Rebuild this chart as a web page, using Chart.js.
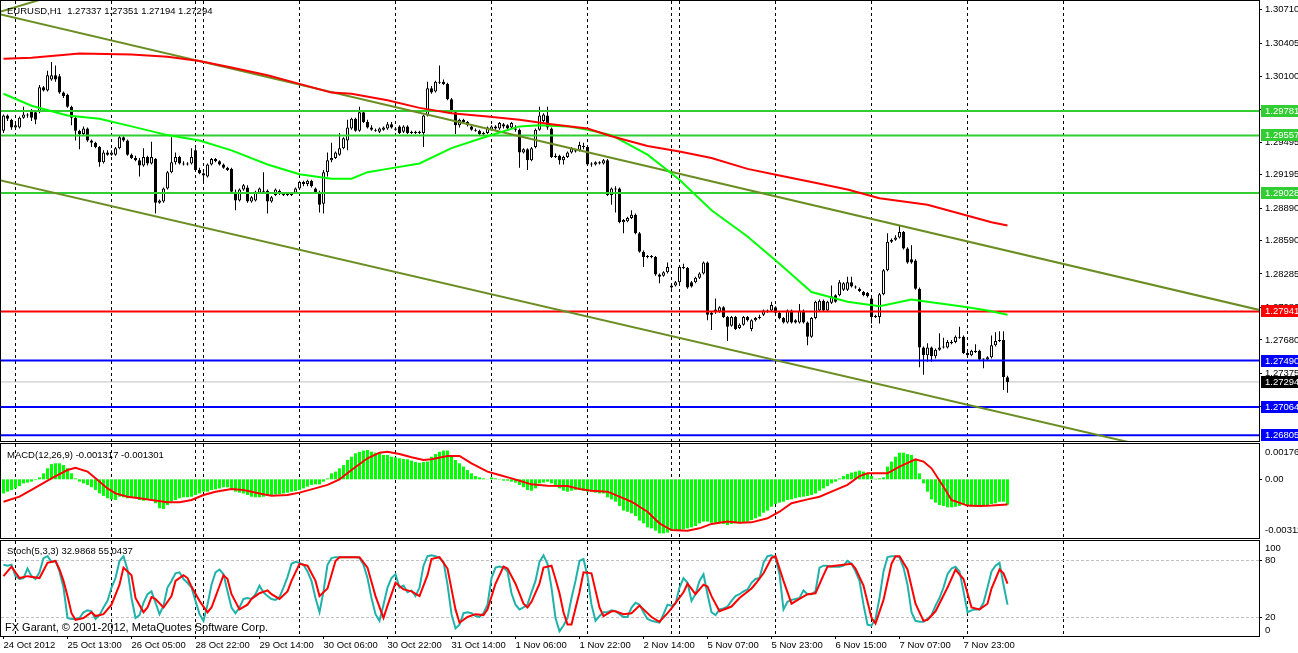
<!DOCTYPE html>
<html>
<head>
<meta charset="utf-8">
<title>EURUSD,H1</title>
<script src="https://cdn.jsdelivr.net/npm/chart.js@4.4.1/dist/chart.umd.min.js"></script>
<style>
  html, body { margin: 0; padding: 0; background: #fff; }
  #wrap { position: relative; width: 1298px; height: 653px; overflow: hidden; background: #fff; }
  #wrap canvas { position: absolute; left: 0; top: 0; }
</style>
</head>
<body>
<div id="wrap">
  <canvas id="mainChart"></canvas>
  <canvas id="macdChart"></canvas>
  <canvas id="stochChart"></canvas>
</div>
<script>
/* global Chart */

// texts
const symbolTitle = "EURUSD,H1  1.27337 1.27351 1.27194 1.27294";
const macdTitle = "MACD(12,26,9) -0.001317 -0.001301";
const stochTitle = "Stoch(5,3,3) 32.9868 55.0437";
const copyright = "FX Garant, \u00a9 2001-2012, MetaQuotes Software Corp.";

// time axis (bar index, H1)
const xLabelIdx = [0, 16, 32, 48, 64, 80, 96, 112, 128, 144, 160, 176, 192, 208, 224, 240];
const xLabels = ["24 Oct 2012", "25 Oct 13:00", "26 Oct 05:00", "28 Oct 22:00", "29 Oct 14:00", "30 Oct 06:00",
  "30 Oct 22:00", "31 Oct 14:00", "1 Nov 06:00", "1 Nov 22:00", "2 Nov 14:00", "5 Nov 07:00",
  "5 Nov 23:00", "6 Nov 15:00", "7 Nov 07:00", "7 Nov 23:00"];
const dayStarts = [3, 27, 48, 50, 74, 98, 122, 146, 167, 169, 193, 217, 241, 265];

// price axis
const priceTicks = [1.30710, 1.30405, 1.30100, 1.29795, 1.29495, 1.29195, 1.28890, 1.28590, 1.28285, 1.27980, 1.27680, 1.27375, 1.27070];
const greenLevels = [1.29781, 1.29557, 1.29028];
const redLevels = [1.27941];
const blueLevels = [1.27490, 1.27064, 1.26805];
const lastPrice = 1.27294;

// trend lines [barIndex, price]
const upperChannel = [[-2, 1.30679], [320, 1.27903]];
const lowerChannel = [[-2, 1.29155], [320, 1.26412]];
const fanLine = [[-2, 1.30680], [10, 1.30812]];

// candles
const opens = [
  1.2960,1.2974,1.2970,1.2963,1.2963,1.2972,1.2975,1.2979,1.2977,1.2977,
  1.3000,1.2997,1.3007,1.3011,1.3010,1.2995,1.2993,1.2982,1.2972,1.2960,
  1.2957,1.2962,1.2951,1.2949,1.2945,1.2931,1.2940,1.2938,1.2938,1.2944,
  1.2954,1.2951,1.2938,1.2935,1.2933,1.2928,1.2936,1.2930,1.2934,1.2894,
  1.2895,1.2907,1.2922,1.2931,1.2936,1.2930,1.2929,1.2930,1.2942,1.2924,
  1.2921,1.2918,1.2929,1.2934,1.2932,1.2929,1.2926,1.2925,1.2904,1.2896,
  1.2906,1.2908,1.2895,1.2896,1.2903,1.2904,1.2905,1.2895,1.2901,1.2905,
  1.2902,1.2901,1.2902,1.2903,1.2907,1.2913,1.2911,1.2914,1.2907,1.2904,
  1.2893,1.2922,1.2933,1.2935,1.2938,1.2944,1.2951,1.2962,1.2971,1.2960,
  1.2977,1.2968,1.2963,1.2961,1.2959,1.2961,1.2962,1.2966,1.2962,1.2964,
  1.2959,1.2964,1.2958,1.2959,1.2958,1.2958,1.2974,1.2999,1.2996,1.3005,
  1.3005,1.3003,1.2989,1.2977,1.2965,1.2970,1.2968,1.2964,1.2961,1.2960,
  1.2957,1.2958,1.2961,1.2964,1.2962,1.2966,1.2965,1.2963,1.2962,1.2961,
  1.2940,1.2943,1.2933,1.2945,1.2961,1.2969,1.2974,1.2962,1.2936,1.2937,
  1.2933,1.2936,1.2940,1.2942,1.2942,1.2946,1.2945,1.2929,1.2929,1.2931,
  1.2930,1.2933,1.2901,1.2907,1.2907,1.2876,1.2877,1.2880,1.2883,1.2866,
  1.2849,1.2844,1.2845,1.2844,1.2828,1.2827,1.2830,1.2816,1.2818,1.2821,
  1.2835,1.2834,1.2821,1.2821,1.2825,1.2829,1.2839,1.2791,1.2794,1.2794,
  1.2798,1.2789,1.2781,1.2789,1.2779,1.2782,1.2789,1.2778,1.2786,1.2788,
  1.2791,1.2795,1.2795,1.2798,1.2793,1.2788,1.2784,1.2795,1.2786,1.2784,
  1.2795,1.2784,1.2771,1.2788,1.2795,1.2804,1.2795,1.2802,1.2809,1.2809,
  1.2814,1.2814,1.2821,1.2817,1.2815,1.2812,1.2811,1.2806,1.2789,1.2789,
  1.2810,1.2832,1.2858,1.2860,1.2862,1.2867,1.2852,1.2842,1.2841,1.2815,
  1.2761,1.2754,1.2761,1.2753,1.2759,1.2761,1.2761,1.2766,1.2766,1.2771,
  1.2771,1.2756,1.2754,1.2758,1.2758,1.2750,1.2750,1.2752,1.2763,1.2767,1.2768,1.27337
];
const highs = [
  1.2975,1.2975,1.2971,1.2967,1.2973,1.2982,1.2976,1.2980,1.2979,1.3002,
  1.3001,1.3015,1.3023,1.3020,1.3012,1.2996,1.2994,1.2983,1.2973,1.2961,
  1.2964,1.2963,1.2952,1.2950,1.2946,1.2942,1.2942,1.2942,1.2945,1.2956,
  1.2955,1.2952,1.2939,1.2937,1.2935,1.2944,1.2937,1.2950,1.2935,1.2897,
  1.2908,1.2923,1.2954,1.2940,1.2937,1.2932,1.2931,1.2944,1.2944,1.2926,
  1.2922,1.2930,1.2935,1.2935,1.2933,1.2930,1.2927,1.2926,1.2906,1.2907,
  1.2911,1.2910,1.2900,1.2905,1.2908,1.2922,1.2906,1.2900,1.2907,1.2906,
  1.2903,1.2903,1.2903,1.2908,1.2914,1.2914,1.2915,1.2915,1.2908,1.2905,
  1.2924,1.2940,1.2949,1.2941,1.2958,1.2954,1.2970,1.2972,1.2972,1.2982,
  1.2978,1.2970,1.2965,1.2962,1.2963,1.2964,1.2968,1.2968,1.2963,1.2965,
  1.2965,1.2965,1.2960,1.2960,1.2960,1.2975,1.3005,1.3001,1.3006,1.3020,
  1.3007,1.3004,1.2990,1.2978,1.2971,1.2971,1.2969,1.2965,1.2962,1.2961,
  1.2959,1.2964,1.2965,1.2965,1.2968,1.2967,1.2966,1.2968,1.2965,1.2962,
  1.2944,1.2944,1.2945,1.2962,1.2982,1.2976,1.2982,1.2963,1.2939,1.2938,
  1.2937,1.2941,1.2945,1.2943,1.2950,1.2949,1.2946,1.2931,1.2932,1.2932,
  1.2934,1.2934,1.2908,1.2909,1.2908,1.2879,1.2881,1.2887,1.2884,1.2867,
  1.2850,1.2846,1.2846,1.2845,1.2829,1.2831,1.2839,1.2819,1.2822,1.2836,
  1.2838,1.2835,1.2822,1.2826,1.2830,1.2840,1.2840,1.2794,1.2806,1.2799,
  1.2799,1.2790,1.2790,1.2790,1.2783,1.2790,1.2790,1.2787,1.2789,1.2791,
  1.2796,1.2796,1.2803,1.2799,1.2794,1.2789,1.2796,1.2796,1.2787,1.2801,
  1.2796,1.2785,1.2789,1.2804,1.2805,1.2805,1.2804,1.2818,1.2810,1.2823,
  1.2821,1.2826,1.2826,1.2818,1.2816,1.2813,1.2812,1.2807,1.2791,1.2811,
  1.2833,1.2866,1.2861,1.2864,1.2873,1.2868,1.2853,1.2855,1.2842,1.2816,
  1.2762,1.2765,1.2762,1.2760,1.2774,1.2770,1.2768,1.2768,1.2772,1.2780,
  1.2772,1.2757,1.2759,1.2764,1.2759,1.2751,1.2753,1.2772,1.2775,1.2776,1.2776,1.27351
];
const lows = [
  1.2958,1.2969,1.2961,1.2962,1.2962,1.2971,1.2972,1.2969,1.2966,1.2976,
  1.2996,1.2996,1.3006,1.3005,1.2994,1.2990,1.2981,1.2965,1.2951,1.2943,
  1.2956,1.2950,1.2945,1.2944,1.2927,1.2930,1.2937,1.2937,1.2937,1.2943,
  1.2950,1.2937,1.2934,1.2932,1.2918,1.2927,1.2928,1.2929,1.2884,1.2893,
  1.2894,1.2906,1.2921,1.2929,1.2929,1.2928,1.2928,1.2929,1.2923,1.2920,
  1.2912,1.2917,1.2928,1.2931,1.2928,1.2925,1.2923,1.2903,1.2887,1.2895,
  1.2905,1.2894,1.2894,1.2895,1.2902,1.2903,1.2884,1.2894,1.2900,1.2901,
  1.2900,1.2900,1.2900,1.2902,1.2906,1.2909,1.2909,1.2908,1.2902,1.2885,
  1.2884,1.2918,1.2931,1.2934,1.2937,1.2943,1.2942,1.2961,1.2959,1.2959,
  1.2967,1.2962,1.2960,1.2959,1.2958,1.2960,1.2961,1.2962,1.2960,1.2957,
  1.2958,1.2957,1.2957,1.2957,1.2957,1.2945,1.2973,1.2994,1.2995,1.3003,
  1.3002,1.2988,1.2976,1.2957,1.2963,1.2967,1.2964,1.2960,1.2959,1.2956,
  1.2956,1.2957,1.2960,1.2961,1.2961,1.2962,1.2961,1.2962,1.2959,1.2926,
  1.2939,1.2924,1.2932,1.2944,1.2960,1.2968,1.2961,1.2935,1.2935,1.2929,
  1.2929,1.2935,1.2939,1.2940,1.2941,1.2943,1.2928,1.2927,1.2928,1.2929,
  1.2929,1.2900,1.2892,1.2885,1.2875,1.2866,1.2876,1.2879,1.2865,1.2848,
  1.2835,1.2843,1.2843,1.2827,1.2820,1.2826,1.2829,1.2815,1.2817,1.2820,
  1.2833,1.2815,1.2816,1.2820,1.2824,1.2828,1.2786,1.2777,1.2792,1.2793,
  1.2788,1.2767,1.2780,1.2777,1.2778,1.2781,1.2785,1.2776,1.2785,1.2787,
  1.2790,1.2793,1.2794,1.2792,1.2787,1.2783,1.2783,1.2783,1.2783,1.2783,
  1.2783,1.2763,1.2770,1.2787,1.2794,1.2794,1.2794,1.2801,1.2802,1.2808,
  1.2813,1.2813,1.2816,1.2815,1.2812,1.2808,1.2807,1.2783,1.2788,1.2783,
  1.2809,1.2831,1.2857,1.2859,1.2861,1.2851,1.2838,1.2838,1.2814,1.2743,
  1.2736,1.2748,1.2748,1.2751,1.2758,1.2760,1.2760,1.2764,1.2765,1.2769,
  1.2755,1.2753,1.2753,1.2756,1.2749,1.2742,1.2749,1.2751,1.2762,1.2766,1.2722,1.27194
];
const closes = [
  1.2974,1.2971,1.2963,1.2965,1.2972,1.2975,1.2974,1.2972,1.2970,1.3000,
  1.2997,1.3011,1.3011,1.3007,1.2995,1.2992,1.2982,1.2972,1.2960,1.2957,
  1.2962,1.2951,1.2949,1.2945,1.2931,1.2940,1.2938,1.2940,1.2944,1.2954,
  1.2951,1.2938,1.2935,1.2933,1.2928,1.2936,1.2930,1.2936,1.2894,1.2896,
  1.2907,1.2922,1.2931,1.2936,1.2930,1.2929,1.2930,1.2936,1.2924,1.2921,
  1.2919,1.2929,1.2934,1.2932,1.2929,1.2926,1.2924,1.2904,1.2896,1.2906,
  1.2910,1.2895,1.2899,1.2904,1.2907,1.2905,1.2895,1.2899,1.2906,1.2902,
  1.2901,1.2902,1.2901,1.2907,1.2913,1.2911,1.2914,1.2909,1.2903,1.2892,
  1.2922,1.2933,1.2935,1.2940,1.2944,1.2953,1.2963,1.2971,1.2960,1.2977,
  1.2968,1.2963,1.2961,1.2960,1.2962,1.2963,1.2966,1.2963,1.2961,1.2958,
  1.2964,1.2958,1.2959,1.2958,1.2959,1.2974,1.2999,1.2995,1.3005,1.3004,
  1.3003,1.2989,1.2977,1.2965,1.2970,1.2968,1.2965,1.2961,1.2960,1.2957,
  1.2958,1.2963,1.2964,1.2962,1.2967,1.2964,1.2962,1.2967,1.2961,1.2940,
  1.2943,1.2933,1.2944,1.2961,1.2974,1.2975,1.2963,1.2936,1.2937,1.2933,
  1.2936,1.2940,1.2944,1.2941,1.2947,1.2945,1.2929,1.2930,1.2931,1.2930,
  1.2933,1.2901,1.2907,1.2906,1.2876,1.2878,1.2880,1.2883,1.2866,1.2849,
  1.2844,1.2845,1.2844,1.2828,1.2826,1.2830,1.2835,1.2818,1.2821,1.2835,
  1.2834,1.2816,1.2817,1.2825,1.2829,1.2839,1.2791,1.2793,1.2796,1.2798,
  1.2789,1.2780,1.2789,1.2778,1.2782,1.2789,1.2786,1.2786,1.2788,1.2789,
  1.2795,1.2794,1.2800,1.2793,1.2788,1.2784,1.2795,1.2784,1.2784,1.2795,
  1.2784,1.2771,1.2788,1.2803,1.2804,1.2795,1.2803,1.2808,1.2803,1.2821,
  1.2820,1.2821,1.2817,1.2816,1.2813,1.2809,1.2808,1.2789,1.2790,1.2810,
  1.2832,1.2858,1.2860,1.2862,1.2867,1.2852,1.2839,1.2839,1.2815,1.2761,
  1.2754,1.2761,1.2753,1.2759,1.2761,1.2762,1.2766,1.2765,1.2771,1.2770,
  1.2756,1.2754,1.2758,1.2757,1.2750,1.2751,1.2752,1.2763,1.2767,1.2768,1.2734,1.27294
];

// moving averages [barIndex, price]
const maSlow = [[0,1.3026],[7,1.3027],[19,1.3031],[32,1.3030],[41,1.3028],[49,1.3024],[57,1.3018],[66,1.3011],
  [74,1.3003],[82,1.2995],[87,1.2994],[96,1.2988],[104,1.2981],[112,1.2976],[121,1.2973],[129,1.2970],
  [137,1.2966],[146,1.2962],[152,1.2955],[161,1.2946],[169,1.2941],[177,1.2935],[186,1.2925],[194,1.2919],
  [202,1.2913],[211,1.2906],[219,1.2898],[231,1.2892],[239,1.2884],[247,1.2876],[251,1.2873]];
const maFast = [[0,1.2994],[7,1.2983],[16,1.2974],[24,1.2971],[32,1.2964],[41,1.2956],[49,1.2951],[57,1.2942],
  [66,1.2929],[74,1.2920],[82,1.2916],[87,1.2916],[91,1.2922],[96,1.2925],[104,1.2930],[112,1.2944],
  [121,1.2955],[129,1.2964],[134,1.2965],[141,1.2964],[146,1.2961],[152,1.2956],[161,1.2938],[169,1.2915],
  [177,1.2887],[186,1.2863],[194,1.2838],[202,1.2812],[211,1.2803],[219,1.2799],[227,1.2805],[231,1.2803],
  [237,1.2800],[241,1.2798],[246,1.2795],[251,1.2791]];

// MACD(12,26,9): histogram per bar, signal sampled [barIndex, value]
const macdHist = [
  -0.00073,-0.00064,-0.00055,-0.00047,-0.00035,-0.00021,-0.00017,-0.00012,-0.00003,0.00010,
  0.00031,0.00057,0.00079,0.00083,0.00083,0.00074,0.00057,0.00031,0.00005,-0.00012,
  -0.00021,-0.00029,-0.00041,-0.00055,-0.00073,-0.00086,-0.00098,-0.00104,-0.00107,-0.00090,
  -0.00093,-0.00098,-0.00093,-0.00098,-0.00107,-0.00111,-0.00107,-0.00104,-0.00124,-0.00150,
  -0.00154,-0.00133,-0.00116,-0.00107,-0.00098,-0.00093,-0.00093,-0.00090,-0.00081,-0.00073,
  -0.00064,-0.00064,-0.00055,-0.00052,-0.00047,-0.00041,-0.00041,-0.00047,-0.00064,-0.00069,
  -0.00073,-0.00081,-0.00090,-0.00093,-0.00093,-0.00090,-0.00086,-0.00081,-0.00078,-0.00076,
  -0.00073,-0.00069,-0.00064,-0.00060,-0.00055,-0.00047,-0.00038,-0.00029,-0.00026,-0.00026,
  -0.00012,0.00005,0.00031,0.00040,0.00057,0.00074,0.00100,0.00117,0.00135,0.00143,
  0.00149,0.00152,0.00143,0.00138,0.00135,0.00126,0.00126,0.00117,0.00114,0.00109,
  0.00105,0.00104,0.00097,0.00090,0.00086,0.00090,0.00092,0.00117,0.00131,0.00143,
  0.00149,0.00149,0.00126,0.00100,0.00083,0.00066,0.00048,0.00031,0.00017,0.00010,
  0.00005,0.00001,0.00010,0.00005,0.00002,-0.00007,-0.00007,-0.00012,-0.00017,-0.00029,
  -0.00041,-0.00055,-0.00059,-0.00047,-0.00021,-0.00017,-0.00012,-0.00021,-0.00029,-0.00047,
  -0.00059,-0.00064,-0.00059,-0.00055,-0.00055,-0.00059,-0.00064,-0.00064,-0.00069,-0.00073,
  -0.00073,-0.00093,-0.00104,-0.00116,-0.00138,-0.00162,-0.00168,-0.00176,-0.00190,-0.00214,
  -0.00228,-0.00249,-0.00254,-0.00266,-0.00280,-0.00280,-0.00276,-0.00266,-0.00266,-0.00263,
  -0.00259,-0.00254,-0.00249,-0.00242,-0.00228,-0.00219,-0.00219,-0.00225,-0.00225,-0.00228,
  -0.00231,-0.00237,-0.00231,-0.00228,-0.00228,-0.00225,-0.00219,-0.00211,-0.00202,-0.00193,
  -0.00173,-0.00162,-0.00142,-0.00128,-0.00121,-0.00116,-0.00107,-0.00104,-0.00098,-0.00093,
  -0.00090,-0.00086,-0.00081,-0.00073,-0.00059,-0.00047,-0.00035,-0.00021,-0.00012,0.00005,
  0.00017,0.00028,0.00035,0.00040,0.00045,0.00040,0.00031,0.00017,0.00003,0.00005,
  0.00010,0.00066,0.00092,0.00117,0.00138,0.00138,0.00131,0.00126,0.00100,0.00031,
  -0.00021,-0.00064,-0.00104,-0.00121,-0.00133,-0.00138,-0.00145,-0.00145,-0.00142,-0.00138,
  -0.00133,-0.00138,-0.00142,-0.00138,-0.00138,-0.00138,-0.00133,-0.00128,-0.00124,-0.00116,-0.00116,-0.001317
];
const macdSignal = [[0,-0.00116],[4,-0.00090],[7,-0.00055],[12,0.00005],[16,0.00048],[18,0.00060],[21,0.00040],
  [23,0.00005],[26,-0.00047],[28,-0.00073],[31,-0.00090],[34,-0.00098],[37,-0.00107],[41,-0.00119],[44,-0.00119],
  [47,-0.00107],[50,-0.00081],[53,-0.00064],[57,-0.00050],[60,-0.00055],[64,-0.00073],[67,-0.00085],[71,-0.00081],
  [74,-0.00069],[77,-0.00052],[81,-0.00029],[84,0.00000],[87,0.00048],[91,0.00109],[94,0.00138],[96,0.00143],
  [99,0.00131],[102,0.00114],[105,0.00100],[107,0.00104],[111,0.00121],[114,0.00121],[117,0.00083],[121,0.00040],
  [124,0.00022],[127,0.00005],[129,-0.00007],[132,-0.00026],[136,-0.00033],[141,-0.00035],[144,-0.00050],
  [147,-0.00059],[151,-0.00064],[154,-0.00090],[157,-0.00116],[161,-0.00168],[164,-0.00228],[167,-0.00263],
  [171,-0.00266],[174,-0.00254],[177,-0.00231],[181,-0.00219],[184,-0.00225],[187,-0.00223],[191,-0.00202],
  [194,-0.00168],[197,-0.00124],[201,-0.00104],[204,-0.00090],[207,-0.00064],[211,-0.00029],[214,0.00017],
  [216,0.00031],[221,0.00031],[224,0.00066],[228,0.00104],[230,0.00092],[232,0.00057],[235,-0.00038],
  [237,-0.00107],[241,-0.00136],[244,-0.00138],[247,-0.00136],[251,-0.001301]];
const macdAxisLabels = [[0.00176, "0.00176"], [0, "0.00"], [-0.00311, "-0.00311"]];

// Stochastic(5,3,3): %K per bar, %D sampled [barIndex, value]
const stochMain = [
  75,74,75,63,60,61,71,63,60,67, 82,84,78,79,68,51,19,18,18,19,
  25,27,26,18,22,30,37,51,61,79, 84,70,40,19,22,35,44,47,35,23,
  32,51,58,66,67,60,56,51,37,23, 16,33,54,67,70,65,47,30,24,30,
  39,40,39,44,53,46,42,39,38,41, 51,62,76,78,77,75,68,58,40,25,
  47,75,82,83,83,83,83,83,83,82, 75,61,40,23,16,33,51,61,65,51,
  53,46,48,42,51,74,84,85,84,82, 78,54,23,8,12,24,25,24,21,20,
  24,33,61,72,73,72,68,45,33,28, 30,33,46,58,78,85,76,51,19,5,
  11,19,40,58,79,81,63,33,16,21, 25,25,27,26,23,20,20,30,35,33,
  25,18,16,15,14,23,33,32,34,51, 61,56,37,44,58,65,44,25,22,28,
  29,31,37,42,44,47,49,56,60,61, 77,84,85,82,65,28,36,38,39,40,
  48,44,44,47,72,74,74,73,73,73, 74,79,76,68,58,33,12,11,18,40,
  68,83,84,84,83,72,54,25,16,15, 15,18,22,32,40,51,65,71,73,68,
  47,25,27,28,28,35,51,68,74,77,54,32.9868
];
const stochSignal = [[0,63],[2,73],[4,61],[6,63],[9,61],[11,77],[13,79],[14,70],[15,58],[16,42],[17,24],[18,17],
  [20,19],[22,25],[23,21],[25,23],[27,33],[29,54],[30,72],[32,64],[33,40],[35,25],[36,30],[37,41],[38,39],
  [40,30],[42,42],[43,58],[45,64],[46,61],[47,52],[49,37],[51,25],[52,30],[55,64],[56,60],[57,44],[59,28],
  [61,33],[62,39],[64,45],[66,48],[67,44],[69,39],[71,47],[72,58],[74,76],[76,74],[78,58],[79,42],[81,50],
  [83,79],[84,83],[89,83],[91,72],[93,42],[95,19],[96,32],[98,56],[100,49],[102,47],[104,42],[106,64],
  [107,81],[109,83],[111,71],[113,28],[114,14],[116,20],[118,23],[120,22],[121,28],[123,55],[125,73],
  [126,71],[128,55],[130,34],[131,30],[132,36],[134,55],[135,72],[137,74],[138,60],[139,45],[140,25],
  [141,12],[142,12],[144,46],[145,67],[147,66],[149,30],[150,21],[152,26],[153,26],[155,23],[157,24],
  [159,32],[162,20],[164,15],[166,24],[167,29],[170,46],[171,55],[173,44],[175,54],[176,52],[177,42],
  [179,26],[182,31],[184,40],[187,50],[188,55],[190,66],[192,82],[193,84],[195,58],[197,34],[199,39],
  [201,44],[203,45],[205,64],[206,73],[212,76],[213,71],[215,53],[217,19],[218,13],[220,38],[222,76],
  [223,84],[224,84],[226,70],[228,34],[230,16],[231,17],[233,26],[236,51],[238,70],[240,60],[242,30],
  [244,28],[246,34],[247,50],[249,70],[250,66],[251,55.0437]];
const stochAxisLabels = [100, 80, 20, 0];
const stochLevels = [80, 20];

(() => {
  "use strict";

  const W = 1298;
  const H = 653;
  const AXIS_W = 39;
  const X_MIN = -0.625;
  const X_MAX = 313.875;
  const FONT = "'Liberation Sans', Arial, sans-serif";

  const pts = (pairs) => pairs.map(([x, y]) => ({ x, y }));
  const flat = (v) => [{ x: X_MIN - 2, y: v }, { x: X_MAX + 2, y: v }];
  const clamp = (v, lo, hi) => Math.max(lo, Math.min(hi, v));

  const lineDs = (data, color, width = 2, order = 0) => ({
    type: "line", data, borderColor: color, borderWidth: width,
    pointRadius: 0, tension: 0, fill: false, order,
  });

  const killPadding = (s) => { s.paddingTop = 0; s.paddingBottom = 0; s.paddingLeft = 0; s.paddingRight = 0; };

  // bar index axis; offset off so bar i sits at 3.5 + 4*i px
  const hiddenX = () => ({ type: "linear", min: X_MIN, max: X_MAX, bounds: "data", offset: false, display: false });

  const putText = (ctx, str, x, y, size = 9.5, color = "#000", align = "left") => {
    ctx.save();
    ctx.font = `${size}px ${FONT}`;
    ctx.fillStyle = color;
    ctx.textAlign = align;
    ctx.textBaseline = "middle";
    ctx.fillText(str, x, y);
    ctx.restore();
  };

  const drawFrame = (chart) => {
    const { ctx, chartArea: a } = chart;
    ctx.save();
    ctx.strokeStyle = "#000";
    ctx.lineWidth = 1;
    ctx.strokeRect(a.left - 0.5, a.top - 0.5, a.right - a.left + 1, a.bottom - a.top + 1);
    ctx.restore();
  };

  const drawDayLines = (chart) => {
    const { ctx, chartArea: a, scales: { x } } = chart;
    ctx.save();
    ctx.strokeStyle = "#000";
    ctx.lineWidth = 1;
    ctx.setLineDash([3, 3]);
    dayStarts.forEach((d) => {
      const px = Math.floor(x.getPixelForValue(d) + 0.01) + 0.5;
      if (px < a.left || px > a.right) return;
      ctx.beginPath();
      ctx.moveTo(px, a.top);
      ctx.lineTo(px, a.bottom);
      ctx.stroke();
    });
    ctx.restore();
  };

  const baseOptions = (padding, scales) => ({
    responsive: false,
    maintainAspectRatio: false,
    animation: false,
    events: [],
    layout: { padding, autoPadding: false },
    plugins: { legend: { display: false }, tooltip: { enabled: false } },
    scales,
  });

  const makeChart = (id, config) => {
    const cv = document.getElementById(id);
    cv.width = W;
    cv.height = H;
    cv.style.width = W + "px";
    cv.style.height = H + "px";
    return new Chart(cv.getContext("2d"), config);
  };

  // ---------- main price panel ----------
  const initMain = () => {
    const bodies = closes.map((c, i) => ({ x: i, y: [opens[i], c] }));
    const wicks = highs.map((h, i) => ({ x: i, y: [lows[i], h] }));
    const bodyFill = closes.map((c, i) => (c >= opens[i] ? "#ffffff" : "#000000"));

    const levelDs = [
      ...greenLevels.map((v) => lineDs(flat(v), "#32cd32", 2, 1)),
      ...redLevels.map((v) => lineDs(flat(v), "#ff0000", 2, 1)),
      ...blueLevels.map((v) => lineDs(flat(v), "#0000ff", 2, 1)),
    ];

    const labelsPlugin = {
      id: "mainDecor",
      beforeDatasetsDraw: drawDayLines,
      afterDraw(chart) {
        const { ctx, chartArea: a, scales: { y } } = chart;
        drawFrame(chart);
        putText(ctx, symbolTitle, 7, 11);
        const box = (v, bg) => {
          const py = Math.round(y.getPixelForValue(v));
          ctx.fillStyle = bg;
          ctx.fillRect(a.right + 2, py - 6, W - a.right, 12);
          putText(ctx, v.toFixed(5), a.right + 6, py + 0.5, 9.5, "#fff");
        };
        greenLevels.forEach((v) => box(v, "#32cd32"));
        redLevels.forEach((v) => box(v, "#ff0000"));
        blueLevels.forEach((v) => box(v, "#0000ff"));
        box(lastPrice, "#000000");
      },
    };

    makeChart("mainChart", {
      type: "bar",
      data: {
        datasets: [
          lineDs(pts(maSlow), "#ff0000", 2, 0),
          lineDs(pts(maFast), "#00ff00", 2, 0),
          lineDs(pts(upperChannel), "#6b8e23", 2, 0),
          lineDs(pts(lowerChannel), "#6b8e23", 2, 0),
          lineDs(pts(fanLine), "#6b8e23", 2, 0),
          ...levelDs,
          {
            type: "bar", data: bodies, backgroundColor: bodyFill, borderColor: "#000", borderWidth: 1,
            borderSkipped: false, barThickness: 3, grouped: false, minBarLength: 1, inflateAmount: 0, order: 2,
          },
          {
            type: "bar", data: wicks, backgroundColor: "#000", borderWidth: 0,
            barThickness: 1, grouped: false, minBarLength: 1, inflateAmount: 0, order: 3,
          },
          lineDs(flat(lastPrice), "#c0c0c0", 1, 4),
        ],
      },
      options: baseOptions({ top: 1, bottom: H - 441, left: 1, right: 0 }, {
        x: hiddenX(),
        y: {
          type: "linear", position: "right", min: 1.26752, max: 1.30791, bounds: "data",
          afterBuildTicks: (s) => { s.ticks = priceTicks.map((v) => ({ value: v })); },
          afterFit: (s) => { s.width = AXIS_W; killPadding(s); },
          ticks: { autoSkip: false, color: "#000", padding: 3, font: { family: FONT, size: 9.5 }, callback: (v) => v.toFixed(5) },
          grid: { drawOnChartArea: false, drawTicks: true, tickLength: 3, color: "#000" },
          border: { display: true, color: "#000" },
        },
      }),
      plugins: [labelsPlugin],
    });
  };

  // ---------- MACD panel ----------
  const initMacd = () => {
    const decor = {
      id: "macdDecor",
      beforeDatasetsDraw: drawDayLines,
      afterDraw(chart) {
        const { ctx, chartArea: a, scales: { y } } = chart;
        drawFrame(chart);
        putText(ctx, macdTitle, 7, a.top + 11);
        macdAxisLabels.forEach(([v, txt]) => {
          const raw = y.getPixelForValue(v);
          const py = clamp(raw, a.top + 8, a.bottom - 8);
          if (py === raw) {
            ctx.fillStyle = "#000";
            ctx.fillRect(a.right, Math.round(py), 3, 1);
          }
          putText(ctx, txt, a.right + 6, py);
        });
      },
    };

    makeChart("macdChart", {
      type: "bar",
      data: {
        datasets: [
          lineDs(pts(macdSignal), "#ff0000", 2, 0),
          {
            type: "bar", data: macdHist.map((v, i) => ({ x: i, y: v })), backgroundColor: "#00ff00",
            borderWidth: 0, barThickness: 3, grouped: false, inflateAmount: 0, order: 1,
          },
        ],
      },
      options: baseOptions({ top: 444, bottom: H - 538, left: 1, right: 0 }, {
        x: hiddenX(),
        y: {
          type: "linear", position: "right", min: -0.00304, max: 0.00183, bounds: "data",
          afterFit: (s) => { s.width = AXIS_W; killPadding(s); },
          ticks: { display: false },
          grid: { display: false },
          border: { display: true, color: "#000" },
        },
      }),
      plugins: [decor],
    });
  };

  // ---------- Stochastic panel ----------
  const initStoch = () => {
    const decor = {
      id: "stochDecor",
      beforeDatasetsDraw(chart) {
        const { ctx, chartArea: a, scales: { y } } = chart;
        drawDayLines(chart);
        ctx.save();
        ctx.strokeStyle = "#c0c0c0";
        ctx.lineWidth = 1;
        ctx.setLineDash([3, 2]);
        stochLevels.forEach((v) => {
          const py = Math.floor(y.getPixelForValue(v)) + 0.5;
          ctx.beginPath();
          ctx.moveTo(a.left, py);
          ctx.lineTo(a.right, py);
          ctx.stroke();
        });
        ctx.restore();
      },
      afterDraw(chart) {
        const { ctx, chartArea: a, scales: { y } } = chart;
        drawFrame(chart);
        putText(ctx, stochTitle, 7, a.top + 10);
        putText(ctx, copyright, 5, a.bottom - 8, 11);
        stochAxisLabels.forEach((v) => {
          const raw = y.getPixelForValue(v);
          const py = clamp(raw, a.top + 7, a.bottom - 6);
          if (py === raw) {
            ctx.fillStyle = "#000";
            ctx.fillRect(a.right, Math.round(py), 3, 1);
          }
          putText(ctx, String(v), a.right + 6, py);
        });
      },
    };

    makeChart("stochChart", {
      type: "line",
      data: {
        datasets: [
          lineDs(pts(stochSignal), "#ff0000", 2, 0),
          lineDs(stochMain.map((v, i) => ({ x: i, y: v })), "#20b2aa", 2, 1),
        ],
      },
      options: baseOptions({ top: 541, bottom: 0, left: 1, right: 0 }, {
        x: {
          type: "linear", min: X_MIN, max: X_MAX, bounds: "data", offset: false,
          afterBuildTicks: (s) => { s.ticks = xLabelIdx.map((v) => ({ value: v })); },
          afterFit: (s) => { s.height = H - 636; killPadding(s); },
          ticks: {
            autoSkip: false, maxRotation: 0, minRotation: 0, align: "start", padding: 1,
            color: "#000", font: { family: FONT, size: 9.5 },
            callback: (v, i) => xLabels[i],
          },
          grid: { drawOnChartArea: false, drawTicks: true, tickLength: 3, color: "#000" },
          border: { display: false },
        },
        y: {
          type: "linear", position: "right", min: 0, max: 100, bounds: "data",
          afterFit: (s) => { s.width = AXIS_W; killPadding(s); },
          ticks: { display: false },
          grid: { display: false },
          border: { display: true, color: "#000" },
        },
      }),
      plugins: [decor],
    });
  };

  const boot = () => {
    initMain();
    initMacd();
    initStoch();
  };

  if (document.readyState === "loading") document.addEventListener("DOMContentLoaded", boot);
  else boot();
})();
</script>
</body>
</html>
